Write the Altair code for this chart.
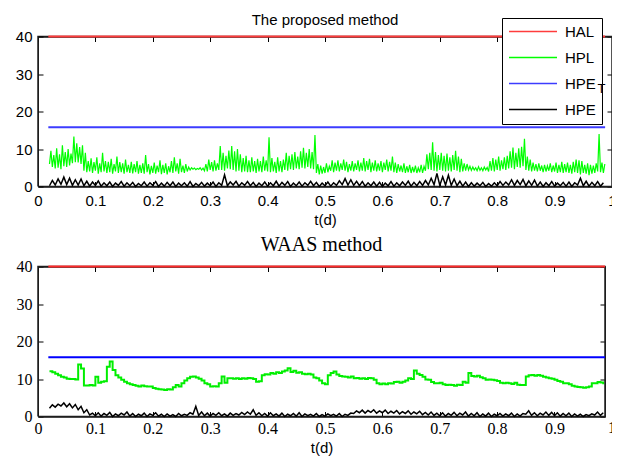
import altair as alt
import pandas as pd

SERIES = ["HAL", "HPL", "HPE_T", "HPE"]
TOP_COLORS = ["#ff3c3c", "#00ff00", "#3c3cff", "#000000"]
BOTTOM_COLORS = ["#ff2a2a", "#00ee00", "#0000ff", "#000000"]
X_TICKS = [0, 0.1, 0.2, 0.3, 0.4, 0.5, 0.6, 0.7, 0.8, 0.9, 1]
Y_TICKS = [0, 10, 20, 30, 40]
LIMIT_X = [0.018, 0.988]
HAL_VALUE = 40
HPET_VALUE = 15.8

# ---- top panel ("The proposed method"), HPL band, sampled every 0.005 from 0.02
TOP_HPL_X0, TOP_HPL_STEP = 0.02, 0.005
TOP_HPL_HI = [
    9.5, 8.4, 10.2, 8.6, 11.0, 9.2, 10.0, 8.8, 13.3, 11.5,
    10.5, 11.0, 9.0, 6.8, 7.5, 6.5, 7.8, 6.2, 9.0, 6.8,
    6.6, 7.4, 6.0, 8.0, 6.5, 6.2, 7.2, 5.8, 6.6, 6.0,
    6.8, 5.8, 6.2, 8.4, 6.0, 5.5, 6.4, 5.6, 7.0, 5.8,
    6.2, 5.4, 6.8, 7.8, 6.2, 7.4, 5.6, 6.0, 5.2, 5.0,
    4.9, 4.8, 5.0, 4.9, 6.0, 7.2, 6.5, 7.0, 6.2, 10.8,
    9.0, 8.2, 9.6, 10.8, 9.4, 10.0, 8.6, 7.6, 8.2, 7.0,
    7.8, 6.8, 7.4, 6.8, 8.0, 7.0, 13.1, 7.6, 6.6, 7.8,
    6.8, 7.2, 9.0, 8.2, 8.6, 9.2, 8.0, 9.4, 10.3, 9.0,
    10.0, 9.2, 13.7, 6.0, 5.6, 5.2, 6.2, 5.4, 7.0, 6.4,
    7.0, 6.2, 7.2, 6.6, 6.0, 6.8, 6.2, 7.0, 6.4, 7.6,
    6.8, 7.4, 6.4, 7.0, 6.2, 6.8, 6.4, 7.2, 6.6, 8.0,
    6.4, 6.0, 5.6, 6.2, 5.4, 5.8, 5.2, 5.6, 5.0, 5.8,
    5.4, 8.6, 9.0, 11.8, 9.2, 8.4, 9.0, 8.2, 8.8, 7.8,
    8.4, 9.5, 8.0, 7.4, 6.2, 6.0, 5.4, 5.2, 5.0, 5.3,
    5.0, 5.2, 5.1, 6.8, 7.6, 7.2, 8.0, 7.0, 7.8, 8.2,
    9.4, 10.4, 9.0, 10.2, 10.6, 12.7, 8.0, 7.2, 6.4, 6.0,
    6.2, 5.6, 5.8, 5.5, 6.2, 5.6, 6.4, 5.8, 6.6, 6.0,
    6.4, 5.8, 6.6, 7.2, 7.0, 6.8, 5.8, 6.2, 5.8, 5.6,
    6.2, 14.0, 6.4, 6.0,
]
TOP_HPL_LO = [
    6.0, 5.2, 4.8, 5.0, 4.6, 5.4, 5.2, 5.6, 6.2, 6.5,
    6.4, 6.0, 4.2, 3.8, 4.0, 3.6, 4.2, 3.4, 3.8, 4.0,
    3.6, 3.8, 3.4, 4.0, 3.6, 3.8, 3.4, 3.8, 3.6, 3.5,
    3.8, 3.4, 3.6, 3.4, 3.8, 3.2, 3.6, 3.4, 3.8, 3.3,
    3.6, 3.2, 3.8, 3.6, 4.0, 3.4, 3.8, 3.6, 4.0, 4.4,
    4.6, 4.5, 4.6, 4.4, 4.2, 4.0, 4.4, 4.0, 4.2, 4.4,
    4.4, 4.2, 4.8, 4.6, 4.4, 4.0, 4.2, 3.8, 4.0, 3.8,
    3.8, 4.0, 3.6, 4.0, 3.8, 4.2, 4.0, 3.8, 4.0, 3.6,
    4.0, 3.8, 4.4, 4.2, 4.6, 4.4, 4.8, 4.6, 5.0, 4.8,
    5.2, 4.8, 4.6, 3.6, 3.2, 3.4, 3.6, 3.8, 4.2, 3.8,
    4.2, 4.0, 4.4, 4.2, 3.8, 4.2, 4.0, 4.4, 4.0, 4.2,
    4.0, 4.4, 3.8, 4.2, 4.0, 4.2, 3.8, 4.4, 4.0, 4.2,
    3.8, 3.6, 4.0, 3.8, 3.6, 3.8, 3.6, 3.8, 3.6, 3.8,
    3.6, 4.2, 4.6, 4.4, 4.2, 4.0, 4.4, 4.2, 4.0, 4.2,
    4.0, 4.4, 4.2, 3.8, 4.0, 4.2, 4.4, 4.3, 4.4, 4.2,
    4.3, 4.2, 4.4, 4.0, 4.2, 4.0, 4.4, 4.2, 4.6, 4.4,
    4.8, 5.0, 4.6, 5.2, 5.0, 5.4, 4.4, 4.2, 4.0, 4.2,
    4.0, 4.2, 3.8, 4.0, 4.2, 3.8, 4.0, 3.6, 3.8, 3.6,
    3.8, 3.6, 3.4, 3.8, 3.6, 3.2, 3.6, 3.4, 3.0, 3.4,
    3.6, 4.0, 3.8, 3.6,
]

# top panel HPE band, sampled every 0.01 from 0.02
TOP_HPE_X0, TOP_HPE_STEP = 0.02, 0.01
TOP_HPE_HI = [
    1.6, 2.0, 2.5, 2.2, 1.8, 2.0, 1.4, 1.2, 1.5, 1.0,
    1.2, 0.9, 1.3, 1.0, 1.1, 0.8, 1.2, 1.0, 1.3, 0.9,
    1.1, 1.2, 0.9, 1.0, 1.3, 0.8, 1.1, 0.9, 1.2, 1.0,
    3.1, 1.2, 1.4, 1.0, 1.3, 1.1, 0.9, 1.2, 1.0, 1.4,
    1.1, 1.3, 0.9, 1.2, 1.0, 1.4, 1.1, 0.9, 1.2, 1.0,
    1.5, 2.1, 1.8, 1.4, 1.3, 1.0, 1.2, 1.1, 0.9, 1.3,
    1.0, 1.2, 1.4, 1.1, 1.3, 1.6, 2.2, 3.5, 2.6, 3.0,
    2.0, 1.4, 1.2, 1.0, 0.9, 1.1, 0.8, 1.0, 1.3, 1.2,
    1.8, 1.6, 1.9, 1.5, 1.7, 1.2, 1.0, 1.3, 0.9, 1.1,
    1.2, 1.0, 2.2, 1.4, 1.1, 1.3, 1.0,
]
TOP_HPE_LO = [
    0.2, 0.4, 0.6, 0.5, 0.3, 0.4, 0.2, 0.1, 0.3, 0.1,
    0.2, 0.0, 0.3, 0.1, 0.2, 0.0, 0.2, 0.1, 0.3, 0.0,
    0.1, 0.2, 0.0, 0.2, 0.1, 0.0, 0.2, 0.1, 0.2, 0.0,
    0.3, 0.2, 0.4, 0.1, 0.3, 0.2, 0.0, 0.2, 0.1, 0.2,
    0.1, 0.3, 0.0, 0.2, 0.1, 0.3, 0.2, 0.0, 0.2, 0.1,
    0.3, 0.5, 0.4, 0.3, 0.2, 0.1, 0.2, 0.1, 0.0, 0.2,
    0.1, 0.2, 0.3, 0.1, 0.2, 0.3, 0.4, 0.5, 0.3, 0.4,
    0.3, 0.2, 0.1, 0.0, 0.1, 0.2, 0.0, 0.1, 0.2, 0.3,
    0.4, 0.3, 0.5, 0.2, 0.3, 0.1, 0.0, 0.2, 0.1, 0.2,
    0.1, 0.0, 0.4, 0.2, 0.1, 0.2, 0.1,
]

# ---- bottom panel ("WAAS method"), HPL sampled every 0.005 from 0.02
BOT_HPL_X0, BOT_HPL_STEP = 0.02, 0.005
BOT_HPL = [
    12.1, 11.8, 11.4, 11.0, 10.6, 10.4, 10.1, 10.0, 10.0, 9.9,
    13.9, 12.8, 8.3, 8.3, 8.4, 8.3, 10.6, 9.0, 9.3, 9.4,
    13.3, 14.7, 12.4, 11.0, 10.4, 9.8, 9.3, 8.9, 8.6, 8.4,
    8.2, 8.0, 8.3, 8.1, 8.0, 8.0, 7.6, 7.4, 7.3, 7.2,
    7.1, 7.3, 7.2, 7.8, 8.4, 8.0, 8.9, 9.6, 10.2, 10.6,
    10.7, 10.4, 10.1, 9.6, 8.9, 8.6, 8.0, 8.1, 8.0, 8.9,
    10.7, 9.0, 10.2, 10.2, 10.1, 10.2, 10.0, 10.2, 10.1, 10.3,
    10.2, 10.0, 9.3, 9.4, 11.0, 11.3, 11.2, 11.6, 11.4, 11.8,
    11.6, 12.0, 12.3, 12.9, 11.9, 12.2, 11.7, 11.8, 11.4, 11.3,
    11.4, 11.2, 10.4, 10.2, 9.6, 8.9, 8.6, 11.0, 11.6, 12.0,
    11.2, 10.8, 10.7, 10.6, 10.4, 10.7, 10.2, 10.3, 10.1, 10.2,
    10.0, 10.3, 10.2, 9.8, 8.9, 8.6, 8.8, 8.6, 8.9, 8.8,
    9.2, 9.3, 9.0, 9.3, 9.6, 10.2, 10.0, 12.3, 11.4, 11.1,
    10.6, 9.9, 9.8, 9.2, 8.9, 8.9, 9.0, 8.6, 8.4, 8.5,
    8.4, 8.2, 8.5, 8.4, 9.3, 9.0, 11.6, 10.8, 10.7, 10.9,
    10.5, 10.2, 9.8, 9.9, 9.8, 9.7, 9.5, 9.0, 8.9, 9.0,
    8.9, 8.7, 9.0, 8.5, 8.4, 8.4, 10.7, 11.0, 11.1, 10.9,
    11.1, 10.9, 10.6, 10.4, 10.2, 10.1, 9.8, 9.5, 9.3, 8.9,
    8.9, 8.6, 8.2, 8.0, 7.9, 7.8, 7.7, 7.8, 8.0, 8.9,
    8.9, 9.2, 9.1, 8.6,
]

# bottom panel HPE band, sampled every 0.01 from 0.02
BOT_HPE_X0, BOT_HPE_STEP = 0.02, 0.01
BOT_HPE_HI = [
    3.1, 3.3, 3.6, 3.4, 3.2, 2.7, 1.8, 0.9, 1.0, 0.8,
    1.1, 0.7, 0.9, 1.2, 0.8, 0.6, 0.9, 0.7, 1.0, 0.6,
    0.7, 0.5, 0.8, 0.6, 1.0, 2.7, 1.2, 0.9, 0.8, 1.0,
    0.7, 0.9, 0.8, 1.1, 1.2, 1.8, 1.0, 0.8, 1.0, 0.7,
    0.9, 0.6, 0.8, 1.0, 0.7, 0.6, 0.8, 0.5, 0.7, 0.6,
    0.8, 0.6, 0.9, 1.5, 1.7, 1.6, 1.8, 1.5, 1.7, 1.4,
    1.6, 1.3, 1.5, 1.2, 1.4, 1.1, 1.2, 0.9, 1.0, 0.8,
    1.1, 0.9, 1.2, 0.8, 1.0, 0.7, 0.9, 0.6, 0.8, 0.7,
    0.9, 0.7, 0.8, 1.5, 1.0, 0.9, 1.2, 1.1, 1.0, 0.8,
    0.9, 0.7, 0.6, 0.5, 0.7, 1.2, 1.0,
]
BOT_HPE_LO = [
    2.2, 2.5, 2.8, 2.6, 2.3, 1.8, 1.0, 0.4, 0.2, 0.1,
    0.3, 0.0, 0.2, 0.4, 0.1, 0.0, 0.2, 0.0, 0.3, 0.1,
    0.0, 0.1, 0.0, 0.2, 0.3, 0.6, 0.3, 0.2, 0.1, 0.3,
    0.2, 0.1, 0.3, 0.4, 0.5, 0.6, 0.3, 0.2, 0.1, 0.2,
    0.1, 0.0, 0.2, 0.1, 0.0, 0.2, 0.1, 0.0, 0.1, 0.2,
    0.1, 0.0, 0.3, 0.8, 1.0, 0.9, 1.1, 0.9, 1.0, 0.8,
    0.9, 0.7, 0.8, 0.6, 0.7, 0.5, 0.4, 0.3, 0.2, 0.1,
    0.3, 0.2, 0.4, 0.1, 0.2, 0.0, 0.1, 0.0, 0.2, 0.1,
    0.2, 0.0, 0.1, 0.6, 0.3, 0.2, 0.4, 0.3, 0.2, 0.1,
    0.2, 0.0, 0.1, 0.0, 0.2, 0.4, 0.3,
]

assert len(TOP_HPL_HI) == len(TOP_HPL_LO) == 194
assert len(TOP_HPE_HI) == len(TOP_HPE_LO) == 97
assert len(BOT_HPL) == 194
assert len(BOT_HPE_HI) == len(BOT_HPE_LO) == 97


def band_rows(name, x0, step, lo, hi):
    rows = []
    for k, (a, b) in enumerate(zip(lo, hi)):
        x = x0 + k * step
        rows.append({"x": x, "y": a, "series": name})
        rows.append({"x": x + step / 2, "y": b, "series": name})
    return pd.DataFrame(rows)


def series_rows(name, x0, step, values):
    return pd.DataFrame(
        {"x": [x0 + k * step for k in range(len(values))], "y": values, "series": name}
    )


def const_rows():
    rows = []
    for name, v in (("HAL", HAL_VALUE), ("HPE_T", HPET_VALUE)):
        for x in LIMIT_X:
            rows.append({"x": x, "y": v, "series": name})
    return pd.DataFrame(rows)


def frame_rows(x_max, y_max=40):
    # closed outline of the axes box, in data units, walked in order
    return pd.DataFrame({
        "fx": [0, x_max, x_max, 0, 0],
        "fy": [0, 0, y_max, y_max, 0],
        "i": [0, 1, 2, 3, 4],
    })


SANS = "Liberation Sans"
SERIF = "Liberation Serif"
FRAME = "#1e1e1e"
PANEL_H = 150


def panel(title, title_font, title_size, title_offset, tick_font, tick_size,
          x_max, width, colors, hpl_df, hpe_df, hpl_interp, hpl_w, hpe_w, const_w,
          label_pad, legend, last_label=False, subscript=False):
    xs = alt.Scale(domain=[0, x_max], nice=False, zero=False)
    ys = alt.Scale(domain=[0, 40], nice=False, zero=False)
    cs = alt.Scale(domain=SERIES, range=colors)
    edge_x = f"datum.value <= 0.0001 || datum.value >= {x_max - 0.0001}"
    edge_y = "datum.value <= 0.0001 || datum.value >= 39.99"
    x_bottom = alt.Axis(
        orient="bottom", values=[v for v in X_TICKS if v <= x_max], format=".1~f",
        offset=-5, tickSize=5, domain=False, labelFont=tick_font,
        labelFontSize=tick_size, labelColor="black", labelPadding=label_pad,
        tickColor="black", labelFlush=False, labelOverlap=False, title="t(d)",
        titleFont=SANS, titleFontSize=15, titleFontWeight="normal", titleColor="black",
        titlePadding=4, grid=False,
    )
    # top axis: inward ticks, and grid lines only at the two box edges
    x_top = alt.Axis(
        orient="top", values=[v for v in X_TICKS if v <= x_max] + [x_max], offset=-5,
        tickSize=5, domain=False, labels=False, title=None, tickColor="black",
        tickOpacity={"condition": {"test": f"datum.value > {x_max - 0.0001} && datum.value < 0.9999", "value": 0}, "value": 1},
        grid=True, gridColor=FRAME, gridWidth=1,
        gridOpacity={"condition": {"test": edge_x, "value": 1}, "value": 0},
    )
    y_left_kw = dict(
        orient="left", values=Y_TICKS, offset=-5, tickSize=5, domain=False, grid=False,
        labelFont=tick_font, labelFontSize=tick_size, labelColor="black", labelPadding=6,
        tickColor="black",
    )
    if subscript:
        # the subscript "T" of the legend entry HPE_T, drawn above the legend box
        y_left = alt.Axis(
            title="T", titleX=554, titleY=55.5, titleAngle=0, titleAlign="left",
            titleBaseline="alphabetic", titleFont=SANS, titleFontSize=13,
            titleFontWeight="normal", titleColor="black", zindex=1, **y_left_kw,
        )
    else:
        y_left = alt.Axis(title=None, **y_left_kw)
    y_right = alt.Axis(
        orient="right", values=Y_TICKS, offset=-5, tickSize=5, domain=False,
        labels=False, title=None, tickColor="black",
        grid=True, gridColor=FRAME, gridWidth=1,
        gridOpacity={"condition": {"test": edge_y, "value": 1}, "value": 0},
    )
    col = alt.Color("series:N", scale=cs, legend=legend)

    hpl = alt.Chart(hpl_df).mark_line(strokeWidth=hpl_w, interpolate=hpl_interp).encode(
        x=alt.X("x:Q", scale=xs, axis=x_bottom),
        y=alt.Y("y:Q", scale=ys, axis=y_left),
        color=col,
    )
    frame = alt.Chart(frame_rows(x_max)).mark_line(
        color=FRAME, strokeWidth=1.5, strokeJoin="miter", clip=False
    ).encode(
        x=alt.X("fx:Q", scale=xs, axis=None),
        y=alt.Y("fy:Q", scale=ys, axis=None),
        order=alt.Order("i:Q"),
    )
    const = alt.Chart(const_rows()).mark_line(strokeWidth=const_w).encode(
        x=alt.X("x:Q", scale=xs, axis=x_top),
        y=alt.Y("y:Q", scale=ys, axis=y_right),
        color=col,
    )
    hpe = alt.Chart(hpe_df).mark_line(strokeWidth=hpe_w).encode(
        x=alt.X("x:Q", scale=xs, axis=None),
        y=alt.Y("y:Q", scale=ys, axis=None),
        color=col,
    )
    layers = [hpl, frame, const, hpe]
    if last_label:
        # tick label "1" lies just past this panel's frame
        one = alt.Chart(pd.DataFrame({"t": ["1"]})).mark_text(
            font=tick_font, fontSize=tick_size, color="black", baseline="top", align="center"
        ).encode(
            text="t:N",
            x=alt.X(datum=1, scale=xs, axis=None),
            y=alt.value(PANEL_H + label_pad),
        )
        layers.append(one)
    return alt.layer(*layers).resolve_axis(x="independent", y="independent").properties(
        width=width, height=PANEL_H,
        title=alt.TitleParams(title, font=title_font, fontSize=title_size,
                              fontWeight="normal", color="black", offset=title_offset),
    )


legend_top = alt.Legend(
    orient="none", legendX=464, legendY=-18.5, title=None, direction="vertical",
    symbolType="stroke", symbolSize=2304, symbolStrokeWidth=1.5, clipHeight=15,
    rowPadding=10, padding=6, labelOffset=7, labelFont=SANS, labelFontSize=15,
    labelColor="black", strokeColor="black", fillColor="white", zindex=0,
    labelExpr="datum.label == 'HPE_T' ? 'HPE' : datum.label",
)

top = panel(
    "The proposed method", SANS, 15, -10.5, SANS, 15, 1.0, 574, TOP_COLORS,
    band_rows("HPL", TOP_HPL_X0, TOP_HPL_STEP, TOP_HPL_LO, TOP_HPL_HI),
    band_rows("HPE", TOP_HPE_X0, TOP_HPE_STEP, TOP_HPE_LO, TOP_HPE_HI),
    "linear", 1.2, 1.5, 2, 7, legend_top, subscript=True,
)
bottom = panel(
    "WAAS method", SERIF, 20, 3.5, SERIF, 16, 0.988, 567, BOTTOM_COLORS,
    series_rows("HPL", BOT_HPL_X0, BOT_HPL_STEP, BOT_HPL),
    band_rows("HPE", BOT_HPE_X0, BOT_HPE_STEP, BOT_HPE_LO, BOT_HPE_HI),
    "step-after", 2, 1.5, 2, 3.5, None, last_label=True,
)

chart = alt.vconcat(top, bottom, spacing=6).resolve_scale(
    x="independent", y="independent", color="independent"
).properties(
    padding={"left": 6, "top": 4.5, "right": -5, "bottom": 0}, background="white"
).configure_view(stroke=FRAME, strokeWidth=1)

chart.save("out.html", embed_options={"renderer": "svg", "actions": False})
